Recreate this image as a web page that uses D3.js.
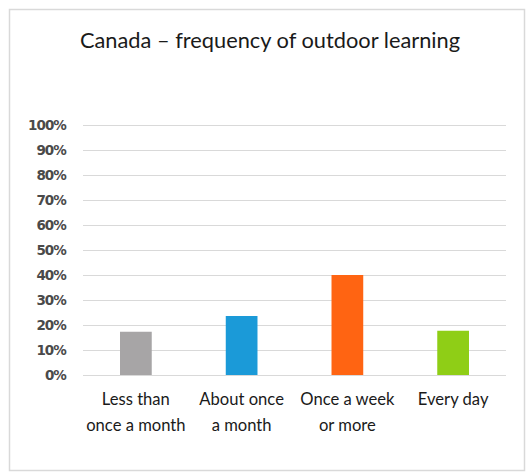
<!DOCTYPE html>
<html>
<head>
<meta charset="utf-8">
<script src="https://cdn.jsdelivr.net/npm/d3@7"></script>
<style>
  body { margin: 0; background: #fff; }
  svg { display: block; }
</style>
</head>
<body>
<svg id="chart" width="528" height="474"></svg>
<script>
const title = 'Canada – frequency of outdoor learning';
const categories = ['Less than|once a month', 'About once|a month', 'Once a week|or more', 'Every day'];
const values = [0.173, 0.236, 0.40, 0.177];
const colors = ['#a7a5a6', '#1b9ad8', '#ff6412', '#8fce16'];
const yTicks = [0, 0.1, 0.2, 0.3, 0.4, 0.5, 0.6, 0.7, 0.8, 0.9, 1.0];

const svg = d3.select('#chart');
const W = 528, H = 474;

// chart frame
svg.append('rect')
    .attr('x', 9.5).attr('y', 9.5).attr('width', 515).attr('height', 461)
    .attr('fill', '#fff').attr('stroke', '#d9d9d9').attr('stroke-width', 1.5);

const margin = {left: 83, right: 22, top: 125, bottom: 99};
const x = d3.scaleBand()
    .domain(categories)
    .range([margin.left, W - margin.right])
    .paddingInner(0.7).paddingOuter(0.35);
const y = d3.scaleLinear().domain([0, 1]).range([H - margin.bottom, margin.top]);

svg.append('text')
    .attr('x', 270).attr('y', 48)
    .attr('text-anchor', 'middle')
    .style('font-family', 'Lato, "Open Sans", sans-serif')
    .style('font-size', '21.8px')
    .attr('fill', '#1a1a1a')
    .text(title);

// gridlines
const grid = svg.append('g');
grid.selectAll('line').data(yTicks).enter().append('line')
    .attr('x1', margin.left).attr('x2', W - margin.right)
    .attr('y1', d => Math.round(y(d)) + 0.5).attr('y2', d => Math.round(y(d)) + 0.5)
    .attr('stroke', '#d9d9d9').attr('stroke-width', 1);

// y axis
const yAxis = svg.append('g')
    .attr('transform', `translate(${margin.left - 17},0)`)
    .call(d3.axisLeft(y).tickValues(yTicks).tickFormat(d3.format('.0%')).tickSize(0).tickPadding(0));
yAxis.select('.domain').remove();
yAxis.selectAll('text')
    .style('font-family', '"DejaVu Sans", sans-serif')
    .style('font-size', '13.5px')
    .style('font-weight', 'bold')
    .style('letter-spacing', '-0.9px')
    .attr('fill', '#4a4a4a');

// bars
svg.append('g').selectAll('rect').data(values).enter().append('rect')
    .attr('x', (d, i) => x(categories[i]))
    .attr('width', x.bandwidth())
    .attr('y', d => y(d))
    .attr('height', d => y(0) - y(d))
    .attr('fill', (d, i) => colors[i]);

// x labels
const xl = svg.append('g').selectAll('text').data(categories).enter().append('text')
    .attr('x', d => x(d) + x.bandwidth() / 2)
    .attr('y', 405)
    .attr('text-anchor', 'middle')
    .style('font-family', 'Lato, "Open Sans", sans-serif')
    .style('font-size', '16.6px')
    .attr('fill', '#1a1a1a');
xl.each(function(d) {
    const parts = d.split('|');
    d3.select(this).selectAll('tspan').data(parts).enter().append('tspan')
        .attr('x', d3.select(this).attr('x'))
        .attr('dy', (p, i) => i === 0 ? 0 : 26)
        .text(p => p);
});
</script>
</body>
</html>
